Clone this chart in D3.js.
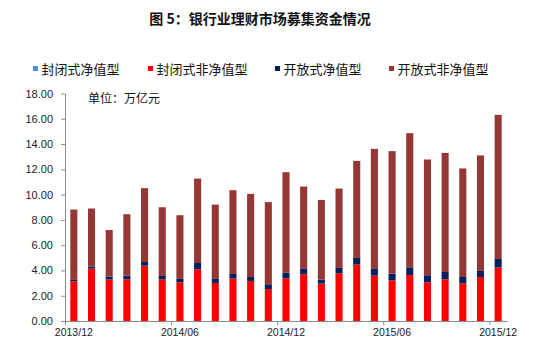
<!DOCTYPE html>
<html>
<head>
<meta charset="utf-8">
<script src="https://cdn.jsdelivr.net/npm/d3@7"></script>
<style>
  body { margin: 0; background: #fff; }
  svg { display: block; }
</style>
</head>
<body>
<div id="chart"></div>
<script>
// months shown on the x axis (one bar each)
const months = ["2013/12","2014/01","2014/02","2014/03","2014/04","2014/05","2014/06",
  "2014/07","2014/08","2014/09","2014/10","2014/11","2014/12",
  "2015/01","2015/02","2015/03","2015/04","2015/05","2015/06",
  "2015/07","2015/08","2015/09","2015/10","2015/11","2015/12"];
const tickLabels = ["2013/12","2014/06","2014/12","2015/06","2015/12"];
const yTicks = [0, 2, 4, 6, 8, 10, 12, 14, 16, 18];

// values, 万亿元
const closedNet    = [0,0,0,0,0,0,0,0,0,0,0,0,0,0,0,0,0,0,0,0,0,0,0,0,0];
const closedNonNet = [3.14,4.15,3.28,3.30,4.38,3.28,3.06,4.09,3.01,3.36,3.17,2.53,3.38,3.70,2.96,3.78,4.47,3.59,3.22,3.64,3.06,3.30,2.98,3.48,4.23];
const openNet      = [0.11,0.15,0.23,0.29,0.29,0.28,0.27,0.50,0.32,0.36,0.31,0.38,0.45,0.42,0.32,0.42,0.52,0.53,0.53,0.61,0.56,0.58,0.50,0.48,0.68];
const openNonNet   = [5.57,4.60,3.69,4.86,5.84,5.44,5.04,6.68,5.88,6.63,6.58,6.50,7.94,6.52,6.30,6.28,7.68,9.50,9.69,10.61,9.16,9.42,8.59,9.14,11.40];

const seriesNames = ["封闭式净值型", "封闭式非净值型", "开放式净值型", "开放式非净值型"];
const seriesColors = ["#4f8fd8", "#ff0000", "#002060", "#953735"];

const W = 538, H = 352;
const svg = d3.select("#chart").append("svg")
  .attr("width", W).attr("height", H);

// title
svg.append("text")
  .attr("x", 260).attr("y", 24)
  .attr("text-anchor", "middle")
  .attr("font-family", "'Noto Sans CJK SC', sans-serif")
  .attr("font-weight", "bold")
  .attr("font-size", 14)
  .attr("fill", "#111")
  .text("图 5：银行业理财市场募集资金情况");

// table for the stack
const table = months.map((m, i) => ({
  month: m,
  [seriesNames[0]]: closedNet[i],
  [seriesNames[1]]: closedNonNet[i],
  [seriesNames[2]]: openNet[i],
  [seriesNames[3]]: openNonNet[i]
}));
const stacked = d3.stack().keys(seriesNames)(table);

const x = d3.scaleBand()
  .domain(months)
  .range([65, 507])
  .paddingInner(0.6)
  .paddingOuter(0.3);

const y = d3.scaleLinear()
  .domain([0, 18])
  .range([321, 93.5]);

const color = d3.scaleOrdinal().domain(seriesNames).range(seriesColors);

// bars
svg.append("g").selectAll("g")
  .data(stacked)
  .join("g")
  .attr("fill", d => color(d.key))
  .selectAll("rect")
  .data(d => d)
  .join("rect")
  .attr("x", d => x(d.data.month))
  .attr("width", x.bandwidth())
  .attr("y", d => y(d[1]))
  .attr("height", d => Math.max(0, y(d[0]) - y(d[1])));

// y axis
const yAxis = svg.append("g")
  .attr("transform", "translate(65,0)")
  .call(d3.axisLeft(y).tickValues(yTicks).tickFormat(d3.format(".2f")).tickSize(4).tickSizeOuter(0).tickPadding(8));

// x axis: labels at bar centres, ticks at every sixth band edge
const xAxis = svg.append("g")
  .attr("transform", "translate(0,321)")
  .call(d3.axisBottom(x).tickValues(tickLabels).tickSize(0).tickSizeOuter(0).tickPadding(8));

const idx = d3.scaleLinear().domain([0, months.length]).range([65, 507]);
svg.append("g")
  .attr("transform", "translate(0,321)")
  .call(d3.axisBottom(idx).tickValues([0, 6, 12, 18, 24]).tickFormat("").tickSize(4).tickSizeOuter(0))
  .call(g => g.select(".domain").remove());

svg.selectAll(".domain, .tick line").attr("stroke", "#8c8c8c");
svg.selectAll(".tick text")
  .attr("font-family", "'Liberation Sans', Arial, sans-serif")
  .attr("font-size", 11)
  .attr("fill", "#222");
xAxis.selectAll(".tick text").attr("font-size", 10.5);

// unit label
svg.append("text")
  .attr("x", 88).attr("y", 103)
  .attr("font-family", "'Noto Sans CJK SC', sans-serif")
  .attr("font-size", 12)
  .attr("fill", "#111")
  .text("单位：万亿元");

// legend
const legendX = [33, 148, 275, 389];
const legend = svg.append("g").selectAll("g")
  .data(seriesNames)
  .join("g")
  .attr("transform", (d, i) => `translate(${legendX[i]},66)`);

legend.append("rect")
  .attr("width", 5).attr("height", 5)
  .attr("fill", d => color(d));

legend.append("text")
  .attr("x", 8.5).attr("y", 7.5)
  .attr("font-family", "'Noto Sans CJK SC', sans-serif")
  .attr("font-size", 13)
  .attr("fill", "#111")
  .text(d => d);
</script>
</body>
</html>
